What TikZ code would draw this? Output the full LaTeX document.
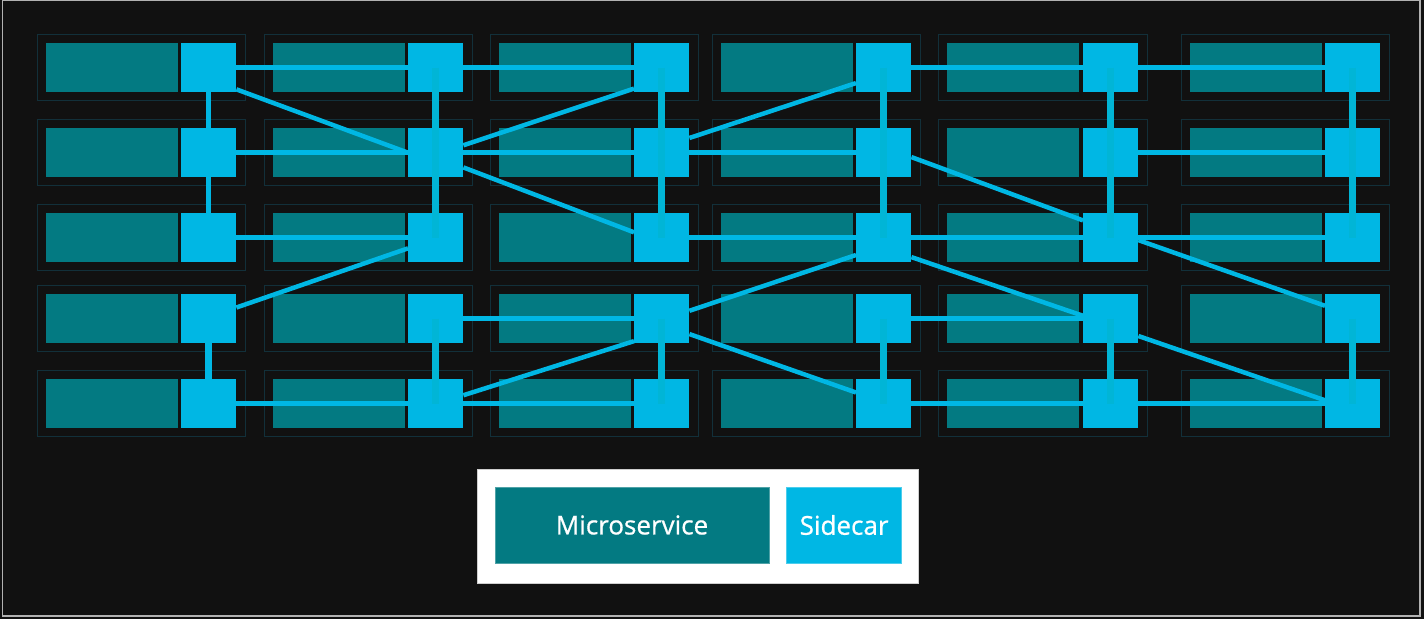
\documentclass[tikz,border=0pt]{standalone}
\usepackage{fontspec}
\setmainfont{Open Sans}
\newfontfamily\legfont{Open Sans}[FakeBold=0.7]
\usetikzlibrary{positioning}
\definecolor{bgc}{HTML}{111111}
\definecolor{msc}{HTML}{037A82}
\definecolor{scc}{HTML}{00B7E4}
\definecolor{vlc}{HTML}{01B5D6}
\definecolor{framec}{HTML}{12303A}
\definecolor{legedge}{HTML}{CFCFCF}
\begin{document}
\begin{tikzpicture}[x=1pt, y=-1pt,
		unitframe/.style={draw=framec, line width=1pt},
		msbox/.style={fill=msc, minimum width=132pt, minimum height=49pt, inner sep=0pt, anchor=north west},
		scbox/.style={fill=scc, minimum width=55pt, minimum height=49pt, inner sep=0pt, anchor=north west},
		link/.style={draw=scc, line width=4.5pt},
		vlink/.style={draw=vlc, line width=6.5pt},
		legbox/.style={minimum height=76pt, inner sep=0pt, text=white, font=\legfont\fontsize{26}{30}\selectfont}
	]
		\useasboundingbox (0,0) rectangle (1424,619);
		\fill[bgc] (0,0) rectangle (1424,619);
		\draw[gray!60, line width=1.2pt] (2.5,0.5) rectangle (1420,616);
		% services with their sidecars
		\foreach \c/\mx/\sx in {1/46/181, 2/273/408, 3/499/634, 4/721/856, 5/947/1083, 6/1190/1325}
			\foreach \r/\y in {1/43, 2/128, 3/213, 4/294, 5/379} {
				\draw[unitframe] ({\mx-9},{\y-9}) rectangle ({\sx+64},{\y+57});
				\node[msbox] (M\r\c) at (\mx,\y) {};
				\node[scbox] (S\r\c) at (\sx,\y) {};
			}
		% mesh
		\foreach \a/\b in {11/12, 12/13, 14/15, 15/16, 21/22, 22/23, 23/24, 25/26,
				31/32, 33/34, 34/35, 35/36, 42/43, 44/45, 51/52, 52/53, 54/55, 55/56}
			\draw[link] (S\a.east) -- (S\b.west);
		\foreach \a/\b in {11.-38/22.180, 22.15/13.217, 23.28/14.209, 22.-28/33.169,
				24.-9/35.148, 41.22/32.201, 43.16/34.212, 52.17/43.219,
				43.-29/54.158, 34.-35/45.174, 35.-5/46.155, 45.-32/56.173}
			\draw[link] (S\a) -- (S\b);
		\foreach \a/\b in {11/21, 21/31}
			\draw[link] (S\a.south) -- (S\b.north);
		\draw[link, line width=7.5pt] (S41.south) -- (S51.north);
		\foreach \c in {2,...,6}
			\foreach \a/\b in {1/2, 2/3, 4/5}
				\draw[vlink] (S\a\c.center) -- (S\b\c.center);
		% legend
		\fill[white, draw=legedge, line width=1pt] (477,469) rectangle (918,583);
		\node[legbox, fill=msc, draw=msc!70!white, line width=0.6pt, minimum width=274pt] (legms) at (632,525) {Microservice};
		\node[legbox, fill=scc, draw=scc!70!white, line width=0.6pt, minimum width=115pt, right=17pt of legms] (legsc) {Sidecar};
	\end{tikzpicture}
\end{document}
